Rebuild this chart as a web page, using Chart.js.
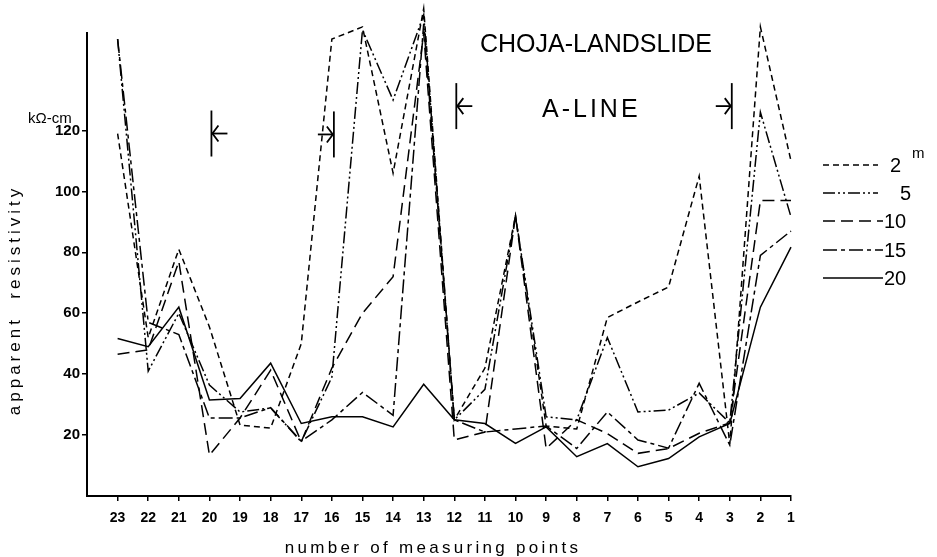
<!DOCTYPE html>
<html><head><meta charset="utf-8">
<script src="https://cdn.jsdelivr.net/npm/chart.js@4.4.1/dist/chart.umd.min.js"></script>
<style>html,body{margin:0;padding:0;background:#fff;}#wrap{width:937px;height:557px;position:relative;}</style>
</head><body><div id="wrap"><canvas id="c" width="937" height="557"></canvas></div>
<script>
// measuring points (x axis, left to right)
const points = [23,22,21,20,19,18,17,16,15,14,13,12,11,10,9,8,7,6,5,4,3,2,1];
// apparent resistivity (kΩ-cm) for each electrode spacing
const s2m  = [119,52,81,55.5,23.3,22.3,50,150,154,106,160,25,42,92,23,22,58.6,63.7,68.6,105,17,154,110];
const s5m  = [150,41,60,36.4,27.6,28.9,17.8,39,153,130,158,25,35,92,26,25,52,27.6,28.2,33.8,24,126,91.6];
const s10m = [46.5,48,77,13.4,25.6,41.3,17.8,42,60,72,152,18.4,21,92,15.6,25,20.5,14,15.6,20.6,24,97,97];
const s15m = [150,57,53,25.6,25.6,29,18,25,34,26.5,155,25,21,22,23,15.6,27.6,18.4,15.7,37,16.7,79,87];
const s20m = [51.7,49,62,31.5,32,43.6,23.8,26,26,22.7,36.7,25,23.8,17.3,22.7,12.9,17.2,9.6,12.3,19.4,23.8,62,81.7];
const seriesNames = ['2','5','10','15','20'];
const yTickValues = [20,40,60,80,100,120];
// section markers: measuring point, level, arrow direction
const markers = [{at:20, level:119, dir:'left'},{at:16, level:118.7, dir:'right'},{at:12, level:128, dir:'left'},{at:3, level:128, dir:'right'}];

const dashes = [[6,4],[12,3,2,3,2,3],[12,6],[14,4,4,4],[]];
const allSeries = [s2m,s5m,s10m,s15m,s20m];
const FONT = 'Liberation Sans, Arial, sans-serif';

const datasets = allSeries.map((arr,i)=>({
  label: seriesNames[i],
  data: points.map((p,j)=>({x:p, y:arr[j]})),
  borderColor:'#000', borderWidth:1.5, borderDash:dashes[i],
  pointRadius:0, tension:0, fill:false, clip:false
}));

const overlay = {
  id:'overlay',
  afterDraw(chart){
    const ctx = chart.ctx, xs = chart.scales.x, ys = chart.scales.y;
    ctx.save();
    ctx.fillStyle='#000'; ctx.strokeStyle='#000';
    // titles
    ctx.font = '25px '+FONT; ctx.textBaseline='alphabetic'; ctx.textAlign='left';
    ctx.letterSpacing='0px';
    ctx.fillText('CHOJA-LANDSLIDE', 480, 52);
    ctx.letterSpacing='3px';
    ctx.fillText('A-LINE', 542, 117);
    // unit label
    ctx.letterSpacing='0px';
    ctx.font = '15px '+FONT; ctx.textAlign='left';
    ctx.fillText('kΩ-cm', 28, 123);
    // axis titles
    ctx.font = '17px '+FONT; ctx.letterSpacing='3.3px'; ctx.textAlign='center';
    ctx.fillText('number of measuring points', 433, 553);
    ctx.save();
    ctx.translate(20, 300); ctx.rotate(-Math.PI/2);
    ctx.letterSpacing='4px';
    ctx.fillText('apparent  resistivity', 0, 0);
    ctx.restore();
    // markers
    ctx.lineWidth = 1.8; ctx.setLineDash([]);
    markers.forEach(m=>{
      const x = xs.getPixelForValue(m.at) + 2, y = ys.getPixelForValue(m.level);
      ctx.beginPath(); ctx.moveTo(x, y-23); ctx.lineTo(x, y+23); ctx.stroke();
      const s = m.dir==='left' ? 1 : -1;
      ctx.beginPath(); ctx.moveTo(x, y); ctx.lineTo(x+s*16, y); ctx.stroke();
      ctx.beginPath(); ctx.moveTo(x+s*7, y-8); ctx.lineTo(x+s*1, y); ctx.lineTo(x+s*7, y+8); ctx.stroke();
    });
    // legend
    const rows = [165,193,221,250,278];
    ctx.lineWidth = 1.5; ctx.font='20px '+FONT; ctx.letterSpacing='0px'; ctx.textAlign='left'; ctx.textBaseline='middle';
    rows.forEach((ry,i)=>{
      ctx.setLineDash(dashes[i]);
      const x2 = i<2 ? 878 : 883;
      ctx.beginPath(); ctx.moveTo(823, ry); ctx.lineTo(x2, ry); ctx.stroke();
      ctx.setLineDash([]);
      const tx = i===0 ? 890 : (i===1 ? 900 : 884);
      ctx.fillText(seriesNames[i], tx, ry+1);
    });
    ctx.font='15px '+FONT;
    ctx.fillText('m', 912, 154);
    ctx.restore();
  }
};

new Chart(document.getElementById('c'), {
  type:'line',
  data:{datasets},
  plugins:[overlay],
  options:{
    responsive:false, animation:false,
    layout:{padding:{left:0, top:33, right:146, bottom:0}},
    plugins:{legend:{display:false}, tooltip:{enabled:false}},
    scales:{
      x:{type:'linear', reverse:true, min:1, max:24,
         afterBuildTicks(s){ s.ticks = points.map(v=>({value:v})); },
         afterFit(s){ s.height = 61; },
         grid:{display:true, drawOnChartArea:false, drawTicks:true, tickLength:5, color:'#000', lineWidth:1.5},
         border:{display:true, color:'#000', width:2},
         ticks:{color:'#000', font:{family:FONT, size:14, weight:'bold'}, padding:9, maxRotation:0, autoSkip:false}
      },
      y:{type:'linear', min:0, max:152,
         afterBuildTicks(s){ s.ticks = yTickValues.map(v=>({value:v})); },
         afterFit(s){ s.width = 87; },
         grid:{display:true, drawOnChartArea:false, drawTicks:true, tickLength:5, color:'#000', lineWidth:1.5},
         border:{display:true, color:'#000', width:2},
         ticks:{color:'#000', font:{family:FONT, size:15, weight:'bold'}, padding:2}
      }
    }
  }
});
</script></body></html>
